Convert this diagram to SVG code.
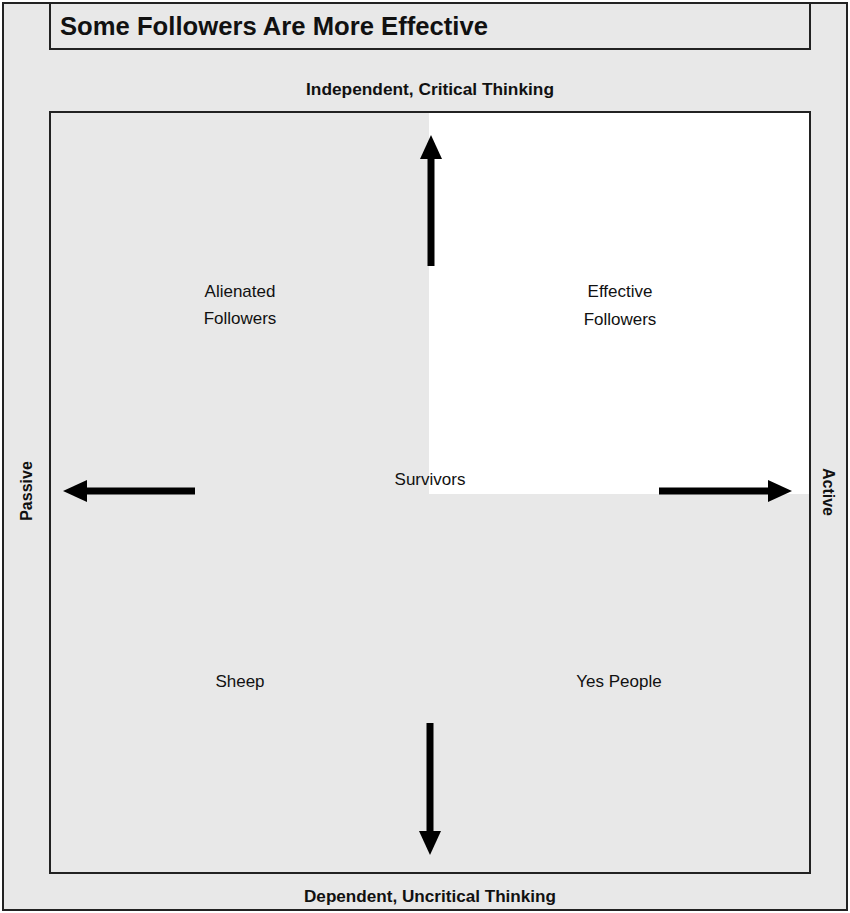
<svg xmlns="http://www.w3.org/2000/svg" width="850" height="913" viewBox="0 0 850 913">
<style>
.frame{fill:#e8e8e8;stroke:#222;stroke-width:2}
.lbl{font-family:"Liberation Sans",Arial,sans-serif;font-size:17px;fill:#111;text-anchor:middle}
.axis{font-family:"Liberation Sans",Arial,sans-serif;font-size:16px;font-weight:bold;fill:#111;text-anchor:middle}
.arrow{stroke:#000;stroke-width:7;fill:none;marker-end:url(#ah)}
</style>
<defs>
<marker id="ah" markerWidth="24" markerHeight="22" refX="2" refY="11" orient="auto" markerUnits="userSpaceOnUse" viewBox="0 0 24 22">
<path d="M0,0 L24,11 L0,22 Z" fill="#000"/>
</marker>
</defs>
<rect x="3" y="3" width="844" height="907" class="frame"/>
<g id="title">
<rect x="50" y="3" width="760" height="46" class="frame"/>
<text x="60" y="35" font-family="'Liberation Sans',Arial,sans-serif" font-size="25" font-weight="bold" fill="#111" textLength="428" lengthAdjust="spacingAndGlyphs">Some Followers Are More Effective</text>
</g>
<g id="grid">
<rect x="50" y="112" width="760" height="761" class="frame"/>
<rect x="429" y="113" width="380" height="381" fill="#fff"/>
</g>
<g id="axes">
<text x="430" y="95" class="axis" textLength="248" lengthAdjust="spacingAndGlyphs">Independent, Critical Thinking</text>
<text x="430" y="902" class="axis" textLength="252" lengthAdjust="spacingAndGlyphs">Dependent, Uncritical Thinking</text>
<text x="0" y="0" class="axis" transform="translate(32,491) rotate(-90)">Passive</text>
<text x="0" y="0" class="axis" transform="translate(823,492) rotate(90)">Active</text>
</g>
<g id="connectors">
<line x1="431" y1="266" x2="431" y2="157" class="arrow"/>
<line x1="195" y1="491" x2="85" y2="491" class="arrow"/>
<line x1="659" y1="491" x2="770" y2="491" class="arrow"/>
<line x1="430" y1="723" x2="430" y2="833" class="arrow"/>
</g>
<g id="alienated"><text x="240" y="297" class="lbl">Alienated</text><text x="240" y="324" class="lbl">Followers</text></g>
<g id="effective"><text x="620" y="297" class="lbl">Effective</text><text x="620" y="325" class="lbl">Followers</text></g>
<g id="survivors"><text x="430" y="485" class="lbl">Survivors</text></g>
<g id="sheep"><text x="240" y="687" class="lbl">Sheep</text></g>
<g id="yespeople"><text x="619" y="687" class="lbl">Yes People</text></g>
</svg>
